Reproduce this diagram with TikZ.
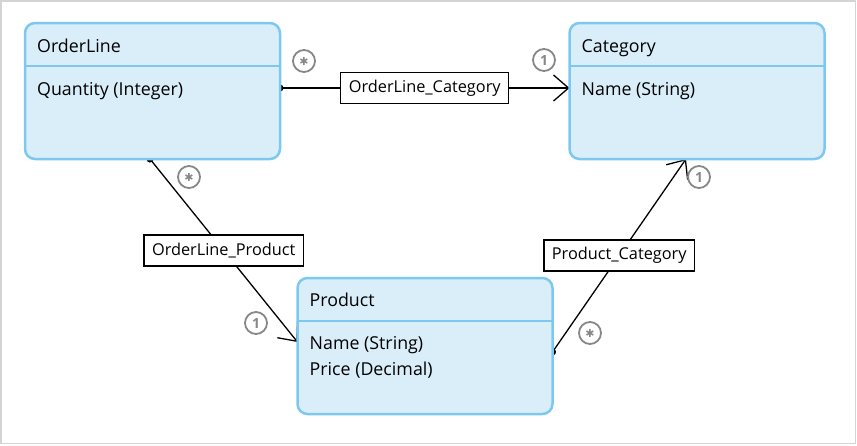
\documentclass[tikz,border=0pt]{standalone}
\usepackage{fontspec}
\setmainfont{Open Sans}
\newfontfamily\symbolfont{DejaVu Sans}
\usetikzlibrary{arrows.meta, positioning}
\definecolor{classBorder}{RGB}{125,200,238}
\definecolor{classFill}{RGB}{218,238,250}
\definecolor{multGray}{RGB}{135,135,135}
\definecolor{frameGray}{RGB}{212,212,212}
\pgfdeclarelayer{background}
\pgfsetlayers{background,main}
\newcommand{\manyMark}{{\symbolfont\fontsize{11}{11}\selectfont ✱}}

\begin{document}
\begin{tikzpicture}[x=1pt, y=-1pt,
    classbox/.style={draw=classBorder, fill=classFill, line width=2.5pt, rounded corners=10pt,
      minimum width=255pt, minimum height=136pt, inner sep=0pt, outer sep=0pt},
    classline/.style={draw=classBorder, line width=2.5pt},
    classtext/.style={anchor=base west, inner sep=0pt, font=\fontsize{17.8}{26}\selectfont},
    assoc/.style={line width=1.3pt, shorten <=-3.5pt,
      {Circle[length=7pt]}-{Straight Barb[length=15pt, width=26pt]}},
    assoclabel/.style={draw, fill=white, line width=1.2pt, inner xsep=8pt, inner ysep=0pt,
      minimum height=31pt, font=\fontsize{16.3}{18}\selectfont},
    mult/.style={circle, draw=multGray, line width=1.8pt, minimum size=22pt, inner sep=0pt,
      text=multGray, font=\fontsize{14}{14}\selectfont\bfseries}]
    \useasboundingbox (0,0) rectangle (857,445);

    % classes
    \node[classbox] (orderline) at (152.5,91) {};
    \node[classbox] (category) at (697,91) {};
    \node[classbox] (product) at (425,346) {};

    \draw[classline] ([yshift=-43pt]orderline.north west) -- ([yshift=-43pt]orderline.north east);
    \draw[classline] ([yshift=-43pt]category.north west) -- ([yshift=-43pt]category.north east);
    \draw[classline] ([yshift=-43pt]product.north west) -- ([yshift=-43pt]product.north east);

    \node[classtext] (orderlineTitle) at ([xshift=12pt,yshift=-29pt]orderline.north west) {OrderLine};
    \node[classtext] (orderlineQty) at ([xshift=12pt,yshift=-72pt]orderline.north west) {Quantity (Integer)};
    \node[classtext] (categoryTitle) at ([xshift=12pt,yshift=-29pt]category.north west) {Category};
    \node[classtext] (categoryName) at ([xshift=12pt,yshift=-72pt]category.north west) {Name (String)};
    \node[classtext] (productTitle) at ([xshift=12pt,yshift=-28pt]product.north west) {Product};
    \node[classtext] (productName) at ([xshift=12pt,yshift=-71pt]product.north west) {Name (String)};
    \node[classtext] (productPrice) at ([xshift=12pt,yshift=-97pt]product.north west) {Price (Decimal)};

    % multiplicities
    \node[mult] (olcatMany) at (304,61) {\manyMark};
    \node[mult] (olcatOne) at (544,60) {1};
    \node[mult] (olprodMany) at (189,177) {\manyMark};
    \node[mult] (olprodOne) at (256,323) {1};
    \node[mult] (prodcatMany) at (590,333) {\manyMark};
    \node[mult] (prodcatOne) at (699,177) {1};

    % associations
    \begin{pgfonlayer}{background}
    \draw[frameGray, line width=1.5pt] (1,1) rectangle (855.5,443.5);
    \draw[assoc] ([yshift=3pt]orderline.east) -- node[assoclabel] (olcatLabel) {OrderLine\_Category} ([yshift=3pt]category.west);
    \draw[assoc] ([xshift=-2.5pt]orderline.south) -- node[assoclabel] (olprodLabel) {OrderLine\_Product} ([yshift=4pt]product.west);
    \draw[assoc] ([yshift=-6pt]product.east) -- node[assoclabel] (prodcatLabel) {Product\_Category} ([xshift=-11pt]category.south);
    \end{pgfonlayer}
\end{tikzpicture}
\end{document}
